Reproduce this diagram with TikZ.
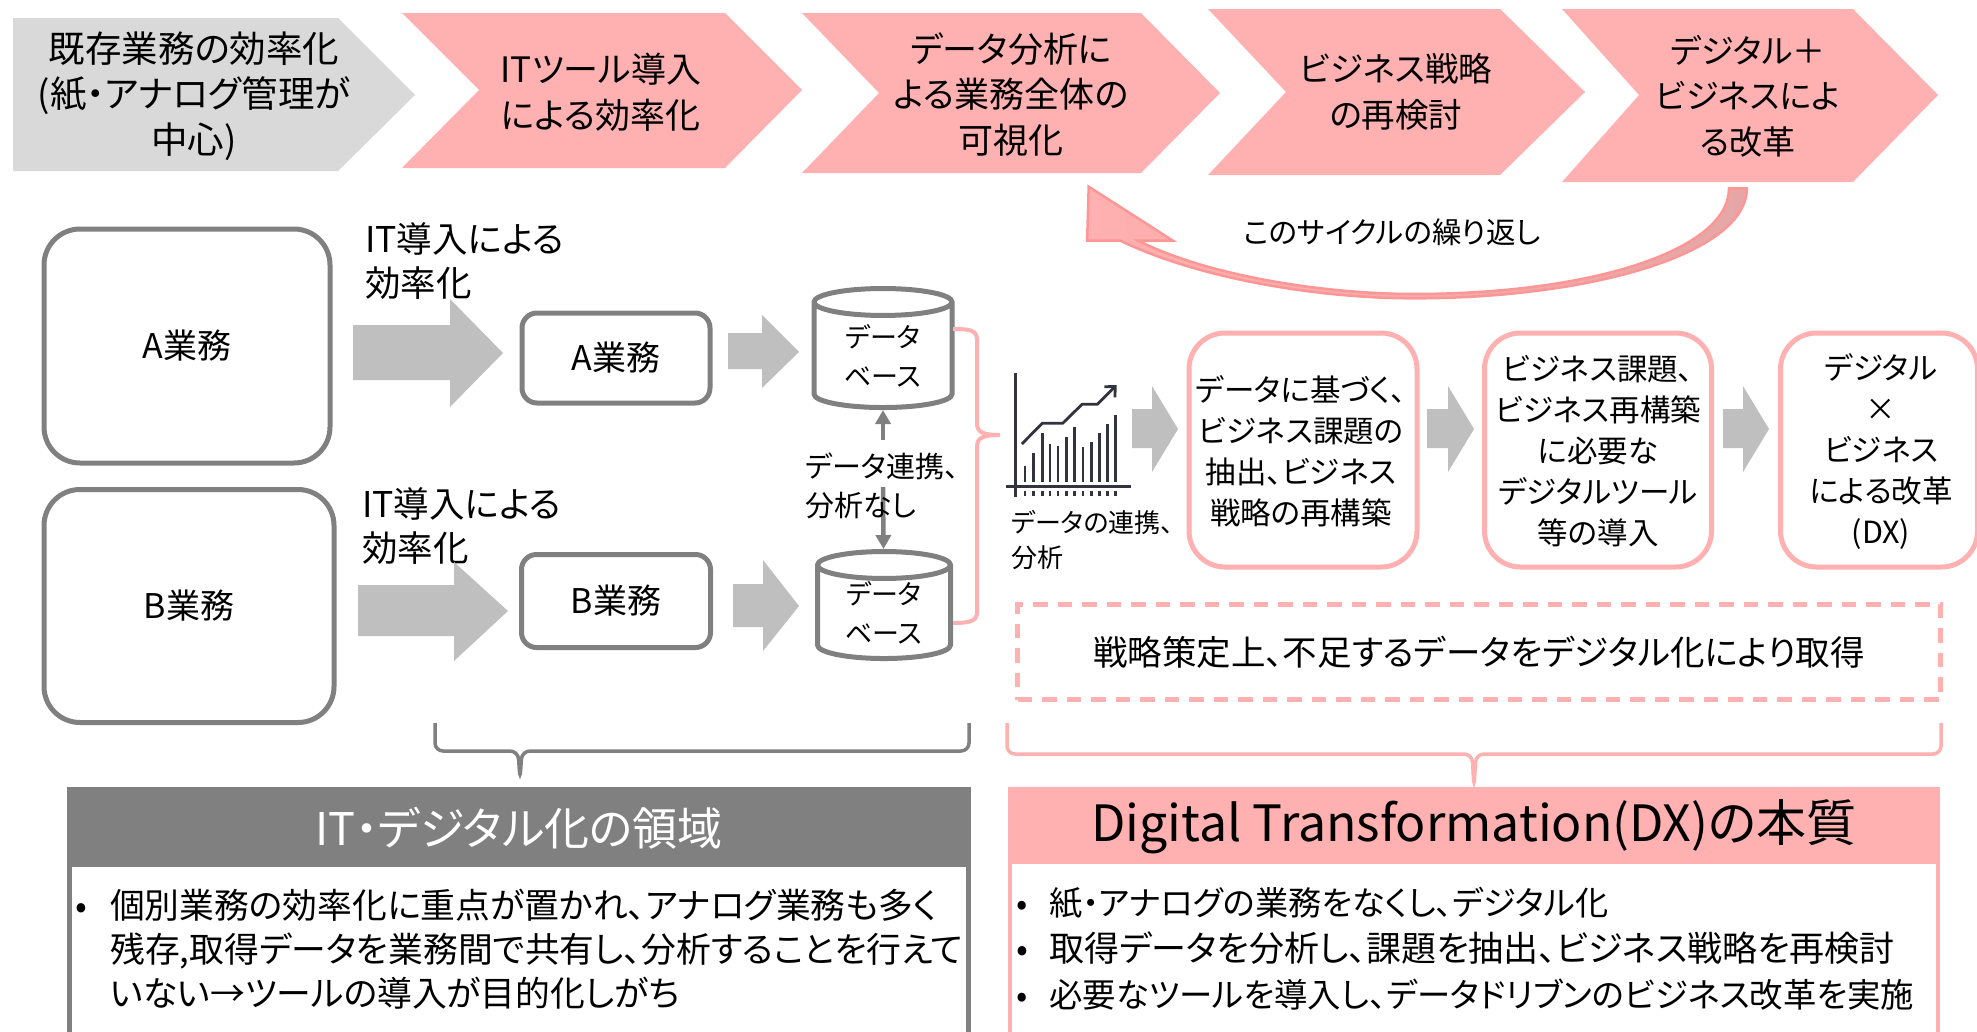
\documentclass[tikz,border=0pt]{standalone}
\usepackage{fontspec}
\setmainfont[RawFeature=+palt]{Noto Sans CJK JP}
\usepackage{tikz}
\usetikzlibrary{arrows.meta,shapes.geometric}
\definecolor{dxpink}{HTML}{FFB0B0}
\definecolor{itgray}{HTML}{808080}
\definecolor{arrowgray}{HTML}{BFBFBF}
\definecolor{lightgray}{HTML}{D9D9D9}
\definecolor{chartink}{HTML}{33333F}
\tikzset{
        big/.style={align=center,inner sep=0pt,font=\fontsize{#1}{45.5}\selectfont},
        mid/.style={align=center,inner sep=0pt,font=\fontsize{35.5}{44}\selectfont},
        box/.style={align=center,inner sep=0pt,font=\fontsize{30.5}{41}\selectfont},
        small/.style={align=left,inner sep=0pt,font=\fontsize{29}{39}\selectfont},
        task/.style={draw=itgray,line width=5pt,rounded corners=#1,align=center,inner sep=0pt,font=\fontsize{34}{40}\selectfont},
        step box/.style={draw=dxpink,line width=5pt,rounded corners=36pt,minimum width=#1,minimum height=234pt,fill=white},
        db/.style={cylinder,shape border rotate=90,aspect=.35,draw=itgray,line width=5pt,fill=white,align=center,inner sep=0pt,font=\fontsize{27}{39}\selectfont},
        brace/.style={line width=3.5pt,rounded corners=8pt},
        bar/.style={draw=chartink,line width=2.6pt},
        lines/.style={align=left,inner sep=0pt,anchor=west},
}
\begin{document}
\begin{tikzpicture}[x=1pt,y=-1pt]
        \path[use as bounding box,clip] (0,0) rectangle (1977,1031);
        \fill[lightgray] (13,18) -- (338,18) -- (415,95) -- (338,171) -- (13,171) -- cycle;
        \fill[dxpink] (402,13) -- (725,13) -- (802,90) -- (725,168) -- (402,168) -- (479,90) -- cycle;
        \fill[dxpink] (802,13) -- (1141,13) -- (1220,93) -- (1141,173) -- (802,173) -- (879,93) -- cycle;
        \fill[dxpink] (1208,9) -- (1500,9) -- (1585,92) -- (1500,175) -- (1208,175) -- (1286,92) -- cycle;
        \fill[dxpink] (1562,9) -- (1853,9) -- (1938,95) -- (1853,182) -- (1562,182) -- (1639,95) -- cycle;
        \node (t1) [big=36.5] at (194,96) {既存業務の効率化\\(紙・アナログ管理が\\中心)};
        \node (t2) [big=35] at (601,92) {ITツール導入\\による効率化};
        \node (t3) [big=35] at (1011,94) {データ分析に\\よる業務全体の\\可視化};
        \node (t4) [big=33.5] at (1396,92) {ビジネス戦略\\の再検討};
        \node (t5) [big=33] at (1748,96) {デジタル＋\\ビジネスによ\\る改革};
        \node (loop) [font=\fontsize{29.5}{38}\selectfont,inner sep=0pt] at (1392,232) {このサイクルの繰り返し};
        \node (a1) [task=36pt,minimum width=286pt,minimum height=234pt] at (187,346) {A業務};
        \node (b1) [task=36pt,minimum width=290pt,minimum height=233pt] at (189,606) {B業務};
        \node (a2) [task=15pt,minimum width=188pt,minimum height=90pt] at (616,358) {A業務};
        \node (b2) [task=15pt,minimum width=189pt,minimum height=93pt] at (616,601) {B業務};
        \node (la) [mid,align=left,anchor=west] at (365,261) {IT導入による\\効率化};
        \node (lb) [mid,align=left,anchor=west] at (362,526) {IT導入による\\効率化};
        \fill[arrowgray] (353,325) -- (450,325) -- (450,299) -- (503,353) -- (450,407) -- (450,380) -- (353,380) -- cycle;
        \fill[arrowgray] (358,585) -- (454,585) -- (454,562) -- (508,611) -- (454,661) -- (454,636) -- (358,636) -- cycle;
        \fill[arrowgray] (728,333) -- (762,333) -- (762,315) -- (799,352) -- (762,388) -- (762,369) -- (728,369) -- cycle;
        \fill[arrowgray] (733,584) -- (763,584) -- (763,560) -- (799,606) -- (763,651) -- (763,627) -- (733,627) -- cycle;
        \fill[arrowgray] (1132,409) -- (1152,409) -- (1152,386) -- (1178,429) -- (1152,472) -- (1152,448) -- (1132,448) -- cycle;
        \fill[arrowgray] (1427,409) -- (1448,409) -- (1448,386) -- (1474,429) -- (1448,472) -- (1448,448) -- (1427,448) -- cycle;
        \fill[arrowgray] (1723,409) -- (1743,409) -- (1743,386) -- (1769,429) -- (1743,472) -- (1743,448) -- (1723,448) -- cycle;
        \node (dba) [db,minimum width=138pt,minimum height=119pt] at (883,356) {データ\\ベース};
        \node (dbb) [db,minimum width=133pt,minimum height=107pt] at (884,613) {データ\\ベース};
        \coordinate (up) at (883,440);
        \coordinate (down) at (883,487);
        \draw (up) edge [-{Triangle[length=14pt,width=15pt]},line width=4.5pt,itgray] (dba);
        \draw (down) edge [-{Triangle[length=14pt,width=15pt]},line width=4.5pt,itgray] (dbb);
        \node (link) [small,anchor=west] at (805,486) {データ連携、\\分析なし};
        \draw[dxpink,line width=4pt] (953,329) .. controls (970,329) and (977,330) .. (977,340) -- (977,423) .. controls (977,432) and (982,435) .. (1000,435) .. controls (982,435) and (977,438) .. (977,447) -- (977,612) .. controls (977,621) and (970,623) .. (953,623);
        \begin{scope}[shift={(980,170)},xscale=.5102,yscale=.3333]
                \draw[chartink,line width=3.5pt] (70,610) -- (70,980);
                \draw[chartink,line width=3.5pt] (50,950) -- (295,950);
                \draw[chartink,line width=2.8pt,-{Straight Barb[length=8pt,width=15pt]}] (82,822) -- (122,760) -- (162,760) -- (200,703) -- (230,703) -- (268,645);
                \foreach \x/\t in {88/888,105/850,122/790,137/822,153/828,169/802,185/772,202/832,218/816,234/788,250/762,266/735} {
                        \draw[bar] (\x,\t) -- (\x,935);
                        \draw[bar] (\x,963) -- (\x,977);
                }
                \draw[draw=dxpink!85!red,line width=2.5pt,left color=dxpink,right color=dxpink!80!gray] (213,50) -- (378,212) -- (310,212) .. controls (450,320) and (680,372) .. (850,372) .. controls (1200,372) and (1468,240) .. (1468,55) -- (1503,55) .. controls (1503,250) and (1200,385) .. (850,385) .. controls (650,385) and (420,320) .. (275,212) -- (210,212) -- cycle;
        \end{scope}
        \node (chart) [small,font=\fontsize{26}{35}\selectfont,anchor=west] at (1011,540) {データの連携、\\分析};
        \node (s1) [step box=228pt] at (1303,450) {};
        \node (s2) [step box=227pt] at (1598,450) {};
        \node (s3) [step box=197pt] at (1879,450) {};
        \node (s1t) [box] at (1301,451) {データに基づく、\\ビジネス課題の\\抽出、ビジネス\\戦略の再構築};
        \node (s2t) [box] at (1598,451) {ビジネス課題、\\ビジネス再構築\\に必要な\\デジタルツール\\等の導入};
        \node (s3t) [box] at (1881,451) {デジタル\\×\\ビジネス\\による改革\\(DX)};
        \node (gap) [draw=dxpink,line width=4.5pt,dash pattern=on 14.5pt off 10pt,minimum width=923pt,minimum height=95pt,font=\fontsize{34.5}{40}\selectfont,inner sep=0pt] at (1479,652) {戦略策定上、不足するデータをデジタル化により取得};
        \draw[itgray,brace] (435,723) -- (435,751) -- (518,751) -- (520,779) -- (522,751) -- (969,751) -- (969,723);
        \draw[dxpink,brace] (1007,723) -- (1007,754) -- (1472,754) -- (1474,787) -- (1476,754) -- (1941,754) -- (1941,723);
        \node (ith) [fill=itgray,text=white,minimum width=904pt,minimum height=80pt,text height=36pt,text depth=0pt,inner sep=0pt,font=\fontsize{45}{50}\selectfont] at (519,827) {IT・デジタル化の領域};
        \node (dxh) [fill=dxpink,minimum width=932pt,minimum height=75pt,text height=34pt,text depth=0pt,inner sep=0pt,font=\fontsize{50}{55}\selectfont] at (1474,824) {Digital Transformation(DX)の本質};
        \draw[itgray,line width=5pt] ([xshift=2.5pt]ith.south west) -- ++(0,180) -| ([xshift=-2.5pt]ith.south east);
        \draw[dxpink,line width=4.5pt] (1010,862) -- (1010,1040) -- (1938,1040) -- (1938,862) -- cycle;
        \node (itl) [lines,font=\fontsize{34.8}{44}\selectfont] at (75,949) {\makebox[35pt][l]{•}個別業務の効率化に重点が置かれ、アナログ業務も多く\\\hspace*{35pt}残存,取得データを業務間で共有し、分析することを行えて\\\hspace*{35pt}いない→ツールの導入が目的化しがち};
        \node (dxl) [lines,font=\fontsize{33.2}{46}\selectfont] at (1016,949) {\makebox[33pt][l]{•}紙・アナログの業務をなくし、デジタル化\\\fontsize{35}{46}\selectfont\makebox[33pt][l]{•}取得データを分析し、課題を抽出、ビジネス戦略を再検討\\\fontsize{33.4}{46}\selectfont\makebox[33pt][l]{•}必要なツールを導入し、データドリブンのビジネス改革を実施};
\end{tikzpicture}
\end{document}
